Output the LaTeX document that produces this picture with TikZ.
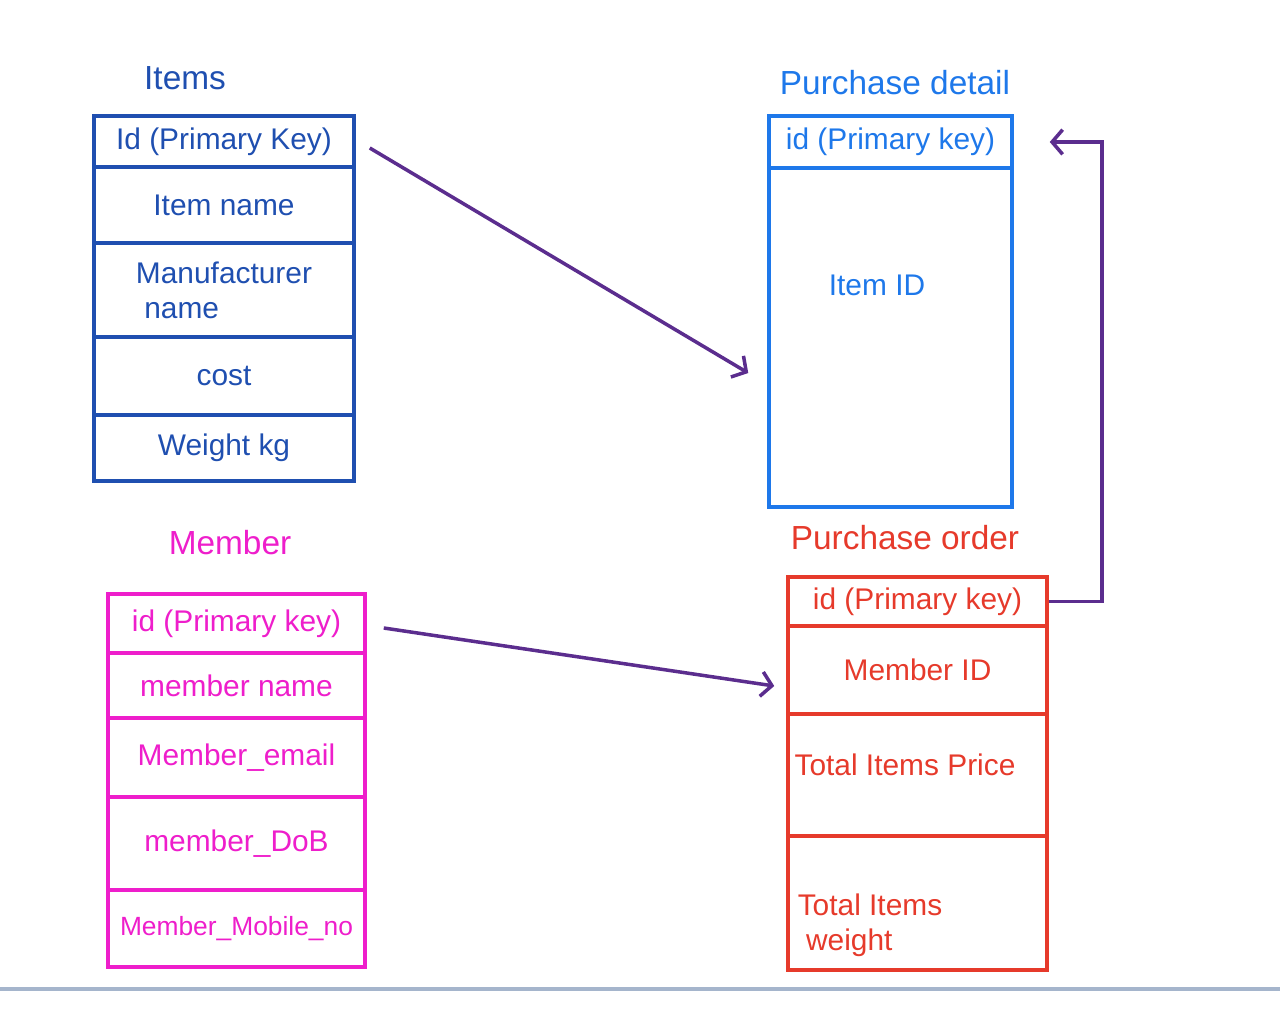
\documentclass[tikz,border=0pt]{standalone}
\usepackage{fontspec}
\setmainfont{Liberation Sans}
\usetikzlibrary{arrows.meta, positioning}
\definecolor{itemsBlue}{HTML}{1F4FB0}
\definecolor{detailBlue}{HTML}{1E78EA}
\definecolor{memberPink}{HTML}{EE1ECB}
\definecolor{orderRed}{HTML}{E63A2B}
\definecolor{linkPurple}{HTML}{5B2D8E}
\definecolor{ruleGray}{HTML}{A5B5CC}
\tikzset{
  row/.style={draw, line width=2pt, inner sep=2pt, align=center,
    font=\fontsize{17}{20}\selectfont},
  itrow/.style={row, itemsBlue, text=itemsBlue, minimum width=5.2cm},
  pdrow/.style={row, detailBlue, text=detailBlue, minimum width=4.86cm},
  mbrow/.style={row, memberPink, text=memberPink, minimum width=5.14cm},
  porow/.style={row, orderRed, text=orderRed, minimum width=5.18cm},
  tabletitle/.style={font=\fontsize{19}{22}\selectfont},
  link/.style={linkPurple, line width=2pt,
    -{Straight Barb[length=6pt, width=14pt, line width=2pt]}}
}
\begin{document}
\begin{tikzpicture}
  \useasboundingbox (0,0) rectangle (25.6,-20.44);
  % Items
  \node[tabletitle, text=itemsBlue] (itTitle) at (3.70,-1.56) {Items};
  \node[itrow, minimum height=1.02cm] (it1) at (4.48,-2.83) {Id (Primary Key)};
  \node[itrow, minimum height=1.52cm] (it2) at (4.48,-4.10) {Item name};
  \node[itrow, minimum height=1.88cm, align=left] (it3) at (4.48,-5.80) {Manufacturer\\ \ name};
  \node[itrow, minimum height=1.56cm] (it4) at (4.48,-7.52) {cost};
  \node[itrow, minimum height=1.32cm] (it5) at (4.48,-8.96) {Weight kg};
  % Purchase detail
  \node[tabletitle, text=detailBlue] (pdTitle) at (17.90,-1.66) {Purchase detail};
  \node[pdrow, minimum height=1.04cm] (pd1) at (17.81,-2.84) {id (Primary key)};
  \node[pdrow, minimum height=6.78cm] (pd2) at (17.81,-6.75) {};
  \node[row, draw=none, text=detailBlue] (pdItemId) at (17.54,-5.70) {Item ID};
  % Member
  \node[tabletitle, text=memberPink] (mbTitle) at (4.60,-10.86) {Member};
  \node[mbrow, minimum height=1.18cm] (mb1) at (4.73,-12.47) {id (Primary key)};
  \node[mbrow, minimum height=1.30cm] (mb2) at (4.73,-13.71) {member name};
  \node[mbrow, minimum height=1.58cm] (mb3) at (4.73,-15.15) {Member\_email};
  \node[mbrow, minimum height=1.86cm] (mb4) at (4.73,-16.87) {member\_DoB};
  \node[mbrow, minimum height=1.54cm, font=\fontsize{15}{18}\selectfont] (mb5) at (4.73,-18.57) {Member\_Mobile\_no};
  % Purchase order
  \node[tabletitle, text=orderRed] (poTitle) at (18.10,-10.76) {Purchase order};
  \node[porow, minimum height=0.98cm] (po1) at (18.35,-12.03) {id (Primary key)};
  \node[porow, minimum height=1.76cm] (po2) at (18.35,-13.40) {Member ID};
  \node[porow, minimum height=2.44cm] (po3) at (18.35,-15.50) {};
  \node[porow, minimum height=2.68cm] (po4) at (18.35,-18.06) {};
  \node[row, draw=none, text=orderRed] (poPrice) at (18.10,-15.30) {Total Items Price};
  \node[row, draw=none, text=orderRed, align=left, anchor=west] (poWeight) at (15.85,-18.50) {Total Items\\ \ weight};
  % links
  \draw[link] ([xshift=0.28cm,yshift=-0.13cm]it1.east) -- ([xshift=-0.38cm,yshift=-0.71cm]pd2.west);
  \draw[link] ([xshift=0.34cm,yshift=-0.09cm]mb1.east) -- ([xshift=-0.24cm,yshift=-0.32cm]po2.west);
  \draw[link] (po1.east) -- ++(1.06,0) |- ([xshift=0.72cm]pd1.east);
  % bottom rule
  \draw[ruleGray, line width=1.8pt] (0,-19.78) -- (25.6,-19.78);
\end{tikzpicture}
\end{document}
